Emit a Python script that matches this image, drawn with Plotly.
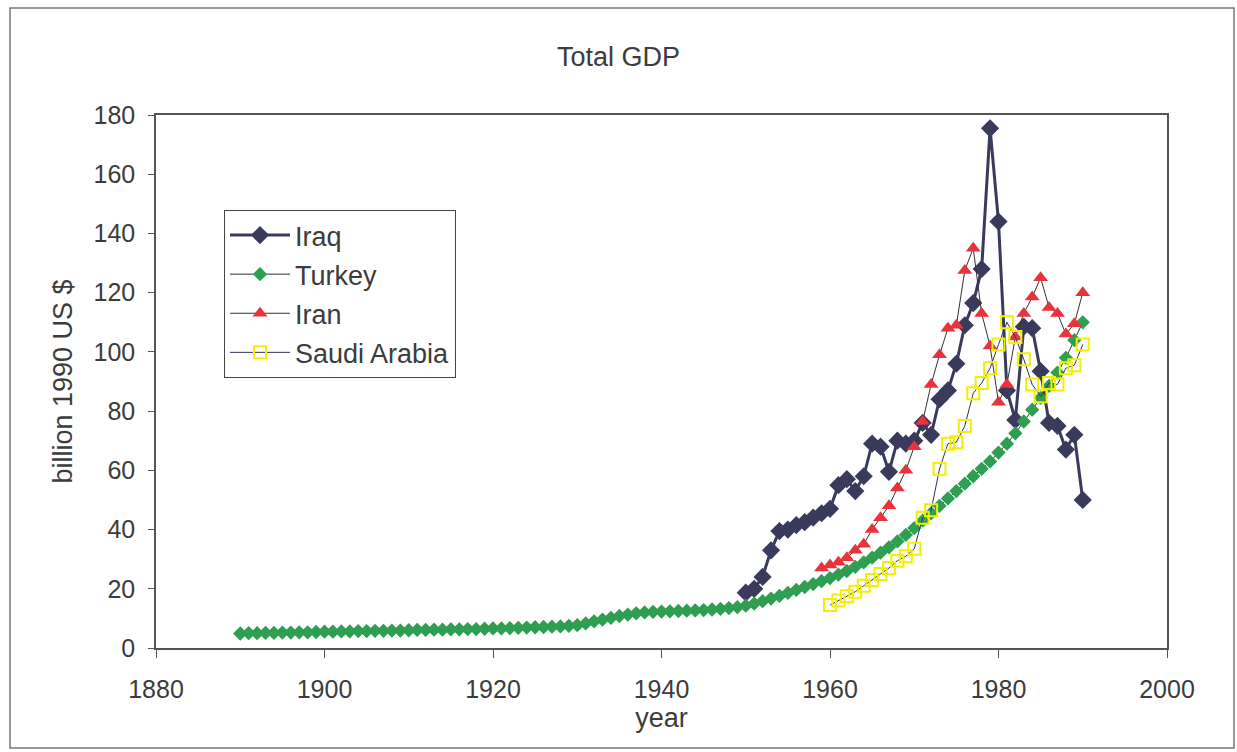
import plotly.graph_objects as go

# ---- data ----
iraq_years = list(range(1950, 1991))
iraq_gdp = [18.7, 20, 24, 33, 39.5, 40, 41.5, 42.5, 44, 45.5,
            47, 55, 57, 53, 58, 69, 68, 59.5, 70, 69,
            70, 76, 72, 84, 87, 96, 109, 116.5, 128, 175.5,
            144, 87, 77, 108.5, 108, 93.5, 76, 75, 67, 72,
            50]

turkey_years = list(range(1890, 1991))
turkey_gdp = [4.9, 5.0, 5.0, 5.1, 5.1, 5.2, 5.2, 5.3, 5.3, 5.4,
              5.5, 5.5, 5.6, 5.6, 5.7, 5.7, 5.8, 5.8, 5.9, 5.9,
              6.0, 6.1, 6.1, 6.2, 6.2, 6.3, 6.3, 6.4, 6.4, 6.5,
              6.6, 6.6, 6.7, 6.8, 6.9, 7.0, 7.1, 7.2, 7.3, 7.5,
              7.7, 8.3, 9.0, 9.6, 10.2, 10.8, 11.3, 11.7, 12.0, 12.2,
              12.3, 12.4, 12.5, 12.6, 12.7, 12.8, 13.0, 13.2, 13.5, 13.8,
              14.3, 15.0, 15.8, 16.7, 17.6, 18.6, 19.6, 20.6, 21.6, 22.6,
              23.6, 24.8, 26.0, 27.4, 28.9, 30.5, 32.2, 34.0, 36.0, 38.2,
              40.5, 43.0, 45.5, 48.0, 50.5, 53.0, 55.5, 58.0, 60.5, 63.0,
              66.0, 69.0, 72.5, 76.5, 80.5, 84.5, 88.5, 93.0, 98.0, 104.0,
              110.0]

iran_years = list(range(1959, 1991))
iran_gdp = [27, 28, 29, 30.5, 33, 35, 40, 44, 48, 54,
            60, 68, 76.5, 89, 99, 108, 109, 127.5, 135, 113,
            102, 83, 89, 105, 113, 118.5, 125, 115, 113, 106,
            109.5, 120]

saudi_years = list(range(1960, 1991))
saudi_gdp = [14.5, 16, 17.5, 19, 21, 23, 25, 27, 29.5, 31,
             33.5, 44, 46.5, 60.5, 69, 69.5, 75, 86, 89.5, 94.5,
             102.5, 110, 105, 97.5, 89, 85, 89.5, 89, 94.5, 95.5,
             102.5]

x_ticks = [1880, 1900, 1920, 1940, 1960, 1980, 2000]
y_ticks = [0, 20, 40, 60, 80, 100, 120, 140, 160, 180]

FONT = "Liberation Sans, Arial, sans-serif"
TXT = "#3c3c3c"

fig = go.Figure()
fig.add_trace(go.Scatter(
    x=iraq_years, y=iraq_gdp, name="Iraq", mode="lines+markers", legendgroup="a",
    line=dict(color="#3a3a5c", width=3),
    marker=dict(symbol="diamond", size=14, color="#3a3a5c")))
fig.add_trace(go.Scatter(
    x=turkey_years, y=turkey_gdp, name="Turkey", mode="lines+markers", legendgroup="b",
    line=dict(color="#333333", width=1),
    marker=dict(symbol="diamond", size=11, color="#2e9e50")))
fig.add_trace(go.Scatter(
    x=iran_years, y=iran_gdp, name="Iran", mode="lines+markers", legendgroup="c",
    line=dict(color="#333333", width=1),
    marker=dict(symbol="triangle-up", size=13, color="#e8323c")))
fig.add_trace(go.Scatter(
    x=saudi_years, y=saudi_gdp, name="Saudi Arabia", mode="lines+markers", legendgroup="d",
    line=dict(color="#333355", width=1),
    marker=dict(symbol="square-open", size=12, color="#f2f000", line=dict(width=2))))

L, R, T, B = 156, 70, 115, 104
W, H = 1237, 752
pw, ph = W - L - R, H - T - B

fig.update_layout(
    width=W, height=H,
    margin=dict(l=L, r=R, t=T, b=B, autoexpand=False),
    paper_bgcolor="white", plot_bgcolor="white",
    font=dict(family=FONT, size=25, color=TXT),
    title=dict(text="Total GDP", x=0.5, xref="container", xanchor="center",
               y=1 - 57 / H, yref="container", yanchor="middle",
               font=dict(size=27, color=TXT)),
    showlegend=True,
    legend=dict(x=(224 - L) / pw, y=(H - B - 210) / ph, xanchor="left", yanchor="top",
                bordercolor="#444444", borderwidth=1, bgcolor="white",
                font=dict(size=27, color=TXT), tracegroupgap=1,
                traceorder="grouped", itemwidth=60),
    xaxis=dict(range=[1880, 2000], tickvals=x_ticks, ticktext=[str(v) for v in x_ticks],
               showgrid=False, zeroline=False, showline=True, linecolor="#555555",
               linewidth=1.5, mirror=True, ticks="outside", ticklen=8, tickcolor="#555555",
               ticklabelstandoff=10,
               title=dict(text="year", standoff=0, font=dict(size=27, color=TXT))),
    yaxis=dict(range=[0, 180], tickvals=y_ticks, ticktext=[str(v) for v in y_ticks],
               showgrid=False, zeroline=False, showline=True, linecolor="#555555",
               linewidth=1.5, mirror=True, ticks="outside", ticklen=6, tickcolor="#555555",
               ticklabelstandoff=8,
               title=dict(text="billion 1990 US $", standoff=13,
                          font=dict(size=27, color=TXT))),
    shapes=[dict(type="rect", xref="paper", yref="paper",
                 x0=(10 - L) / pw, x1=(1234 - L) / pw,
                 y0=(H - B - 748) / ph, y1=(H - B - 8) / ph,
                 line=dict(color="#777777", width=1.5), layer="below")],
)

fig.write_html("out.html", config={"displayModeBar": False},
               post_script="document.body.style.margin='0';document.body.style.overflow='hidden';")
